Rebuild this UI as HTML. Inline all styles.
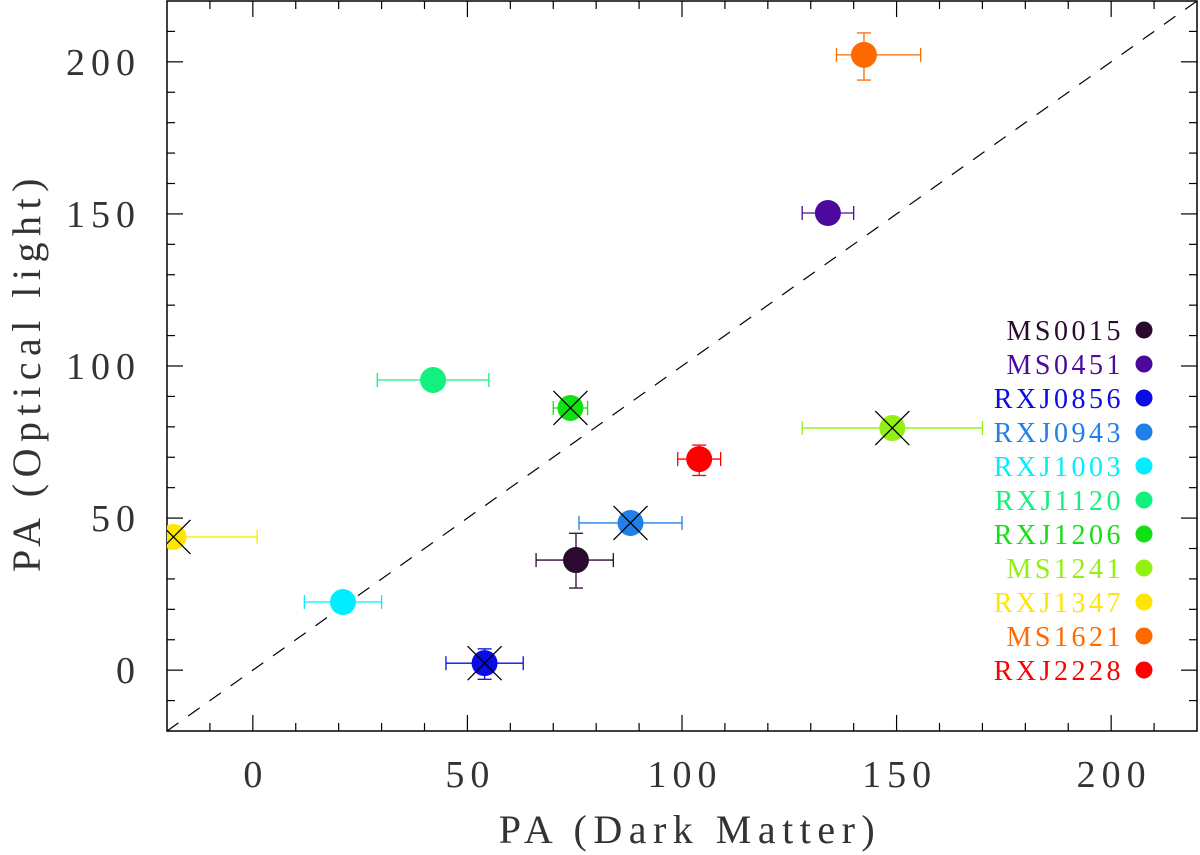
<!DOCTYPE html>
<html><head><meta charset="utf-8"><style>
body{margin:0;background:#fff;}
svg{display:block;font-family:"Liberation Serif",serif;}
</style></head><body>
<svg id="chart" width="1200" height="855" xmlns="http://www.w3.org/2000/svg">
</svg>
<script>
const names=["MS0015","MS0451","RXJ0856","RXJ0943","RXJ1003","RXJ1120","RXJ1206","MS1241","RXJ1347","MS1621","RXJ2228"];
const colors=["#2a0b2e","#4c0a9c","#0b0be6","#1e80e8","#00eeff","#12f07e","#12e012","#92f012","#ffe600","#ff6a00","#ff0000"];
const paDM=[75.3,134,54,88,21,42,74,149,-18.5,142.4,104];
const paOpt=[36.2,150.3,2.3,48.4,22.4,95.4,86.2,79.6,43.8,202.3,69.4];
const xLo=[66,128,45,76,12,29,70,128,-25,136,99];
const xHi=[84,140,63,100,30,55,78,170,1,155.6,109];
const yLo=[27,150.3,-3,48.4,22.4,95.4,86.2,79.6,43.8,194,64];
const yHi=[45,150.3,7,48.4,22.4,95.4,86.2,79.6,43.8,209.5,74];
const crossed=[false,false,true,true,false,false,true,true,true,false,false];
const xTicks=[0,50,100,150,200];
const yTicks=[0,50,100,150,200];

const L=167,R=1197,T=1,B=731,MIN=-20,MAX=220;
const sx=v=>L+(v-MIN)/(MAX-MIN)*(R-L);
const sy=v=>B-(v-MIN)/(MAX-MIN)*(B-T);
const svg=document.getElementById('chart');
const NS="http://www.w3.org/2000/svg";
function mk(tag,attrs,parent){const e=document.createElementNS(NS,tag);for(const k in attrs)e.setAttribute(k,attrs[k]);(parent||svg).appendChild(e);return e;}

const clip=mk('clipPath',{id:'pc'});mk('rect',{x:L,y:T,width:R-L,height:B-T},clip);

const diag=mk('line',{x1:sx(MIN),y1:sy(MIN),x2:sx(MAX),y2:sy(MAX),stroke:'#000','stroke-width':1.2,'stroke-dasharray':'14 12'});



const frame=mk('rect',{x:L,y:T,width:R-L,height:B-T,fill:'none',stroke:'#000','stroke-width':1.5});



const ticks=mk('g',{stroke:'#000','stroke-width':1.2});


for(let v=-10;v<=210;v+=10){
  const maj=v%50===0, len=maj?16:8;
  const x=sx(v),y=sy(v);
  mk('line',{x1:x,y1:B,x2:x,y2:B-len},ticks);
  mk('line',{x1:x,y1:T,x2:x,y2:T+len},ticks);
  mk('line',{x1:L,y1:y,x2:L+len,y2:y},ticks);
  mk('line',{x1:R,y1:y,x2:R-len,y2:y},ticks);
}
xTicks.forEach(v=>{const t=mk('text',{x:sx(v)+3,y:787,'text-anchor':'middle','font-size':38,'letter-spacing':6,fill:'#333'});t.textContent=v;

});
yTicks.forEach(v=>{const t=mk('text',{x:141,y:sy(v)+13,'text-anchor':'end','font-size':38,'letter-spacing':6,fill:'#333'});t.textContent=v;

});
const xt=mk('text',{x:690,y:843,'text-anchor':'middle','font-size':40,'letter-spacing':6.5,fill:'#333'});xt.textContent='PA (Dark Matter)';


const yt=mk('text',{x:0,y:0,'text-anchor':'middle','font-size':40,'letter-spacing':6.5,fill:'#333',transform:'translate(40,372) rotate(-90)'});yt.textContent='PA (Optical light)';



const pts=mk('g',{'clip-path':'url(#pc)'});
names.forEach((n,i)=>{
  const g=mk('g',{},pts);
  
  
  const c=colors[i],x=sx(paDM[i]),y=sy(paOpt[i]);
  const x1=sx(xLo[i]),x2=sx(xHi[i]),y1=sy(yLo[i]),y2=sy(yHi[i]);
  const a={stroke:c,'stroke-width':1.3};
  mk('line',Object.assign({x1:x1,y1:y,x2:x2,y2:y},a),g);
  mk('line',Object.assign({x1:x1,y1:y-7,x2:x1,y2:y+7},a),g);
  mk('line',Object.assign({x1:x2,y1:y-7,x2:x2,y2:y+7},a),g);
  if(yLo[i]!==yHi[i]){
    mk('line',Object.assign({x1:x,y1:y1,x2:x,y2:y2},a),g);
    mk('line',Object.assign({x1:x-7,y1:y1,x2:x+7,y2:y1},a),g);
    mk('line',Object.assign({x1:x-7,y1:y2,x2:x+7,y2:y2},a),g);
  }
  mk('circle',{cx:x,cy:y,r:13,fill:c},g);
  if(crossed[i]){
    mk('line',{x1:x-17,y1:y-17,x2:x+17,y2:y+17,stroke:'#000','stroke-width':1.3},g);
    mk('line',{x1:x-17,y1:y+17,x2:x+17,y2:y-17,stroke:'#000','stroke-width':1.3},g);
  }
});

const leg=mk('g',{});


names.forEach((n,i)=>{
  const y=330+i*34;
  const e=mk('g',{},leg);
  
  
  const t=mk('text',{x:1124,y:y+10,'text-anchor':'end','font-size':28,'letter-spacing':3.5,fill:colors[i]},e);t.textContent=n;
  mk('circle',{cx:1144,cy:y,r:8.5,fill:colors[i]},e);
});
</script>
</body></html>
